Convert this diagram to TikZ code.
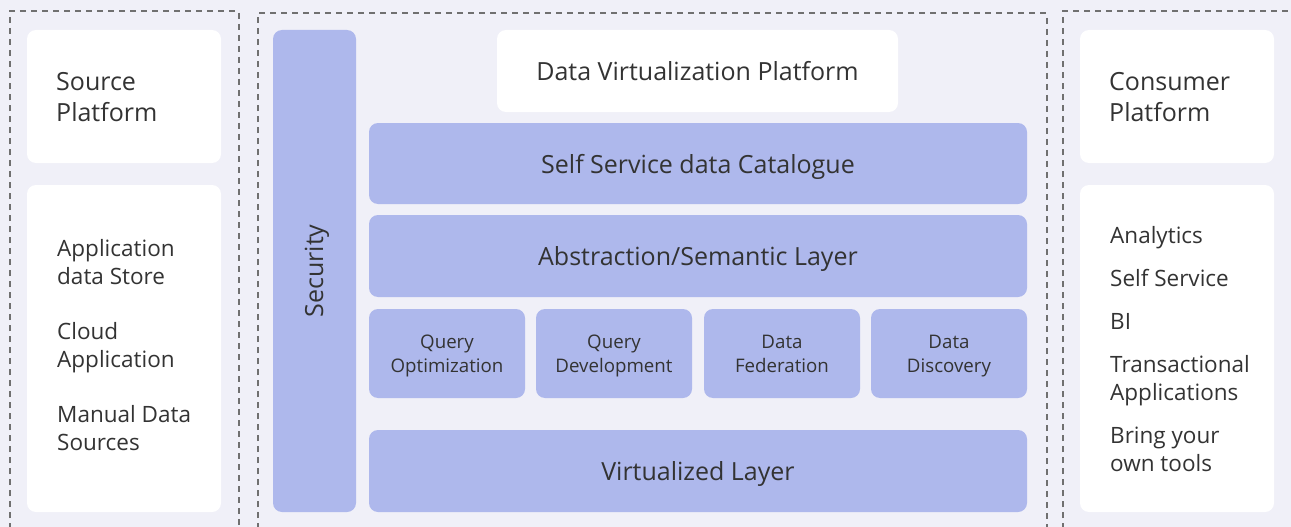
\documentclass[tikz,border=0pt]{standalone}
\usepackage{fontspec}
\setmainfont{Open Sans}
\definecolor{bgc}{HTML}{F0F0F8}
\definecolor{blu}{HTML}{AEB8EC}
\definecolor{txt}{HTML}{333333}
\definecolor{dsh}{HTML}{707070}
\begin{document}
\begin{tikzpicture}[x=1pt,y=-1pt,
  zone/.style={draw=dsh,line width=2pt,dash pattern=on 6pt off 5pt},
  wbox/.style={fill=white,rounded corners=9pt},
  bbox/.style={fill=blu,rounded corners=9pt},
  big/.style={text=txt,inner sep=0pt,font=\fontsize{25}{31}\selectfont},
  mid/.style={text=txt,inner sep=0pt,font=\fontsize{22.5}{28}\selectfont,align=left,anchor=base west},
  small/.style={text=txt,inner sep=0pt,font=\fontsize{18.7}{24}\selectfont,align=center,anchor=base}]
\fill[bgc] (0,0) rectangle (1291,527);
\useasboundingbox (0,0) rectangle (1291,527);
% zones
\draw[zone] (9.5,540) -- (9.5,11.5) -- (238.5,11.5) -- (238.5,540);
\draw[zone] (257.5,540) -- (257.5,13.5) -- (1046.5,13.5) -- (1046.5,540);
\draw[zone] (1062.5,540) -- (1062.5,11.5) -- (1300,11.5);
% left
\fill[wbox] (27,30) rectangle (221,163);
\node[big,align=left,anchor=base west] (src) at (56,121.5) {Source\\Platform};
\fill[wbox] (27,185) rectangle (221,512);
\node[mid] (s1) at (57,284) {Application\\data Store};
\node[mid] (s2) at (57,367) {Cloud\\Application};
\node[mid] (s3) at (57,450) {Manual Data\\Sources};
% right
\fill[wbox] (1080,30) rectangle (1274,163);
\node[big,align=left,anchor=base west] (con) at (1109,121.5) {Consumer\\Platform};
\fill[wbox] (1080,185) rectangle (1274,512);
\node[mid] (c1) at (1110,243) {Analytics};
\node[mid] (c2) at (1110,286) {Self Service};
\node[mid] (c3) at (1110,329) {BI};
\node[mid] (c4) at (1110,400) {Transactional\\Applications};
\node[mid] (c5) at (1110,471) {Bring your\\own tools};
% middle
\fill[bbox] (273,30) rectangle (356,512);
\node[big,rotate=90,anchor=base] (sec) at (323,271) {Security};
\fill[wbox] (497,30) rectangle (898,112);
\node[big,anchor=base] (dvp) at (697.5,80.5) {Data Virtualization Platform};
\fill[bbox] (369,123) rectangle (1027,204);
\node[big,anchor=base] (ssc) at (698,173) {Self Service data Catalogue};
\fill[bbox] (369,215) rectangle (1027,297);
\node[big,anchor=base] (abs) at (698,265) {Abstraction/Semantic Layer};
\fill[bbox] (369,309) rectangle (525,398);
\node[small] (q1) at (447,372) {Query\\Optimization};
\fill[bbox] (536,309) rectangle (692,398);
\node[small] (q2) at (614,372) {Query\\Development};
\fill[bbox] (704,309) rectangle (860,398);
\node[small] (q3) at (782,372) {Data\\Federation};
\fill[bbox] (871,309) rectangle (1027,398);
\node[small] (q4) at (949,372) {Data\\Discovery};
\fill[bbox] (369,430) rectangle (1027,512);
\node[big,anchor=base] (vir) at (698,480) {Virtualized Layer};
\end{tikzpicture}
\end{document}
